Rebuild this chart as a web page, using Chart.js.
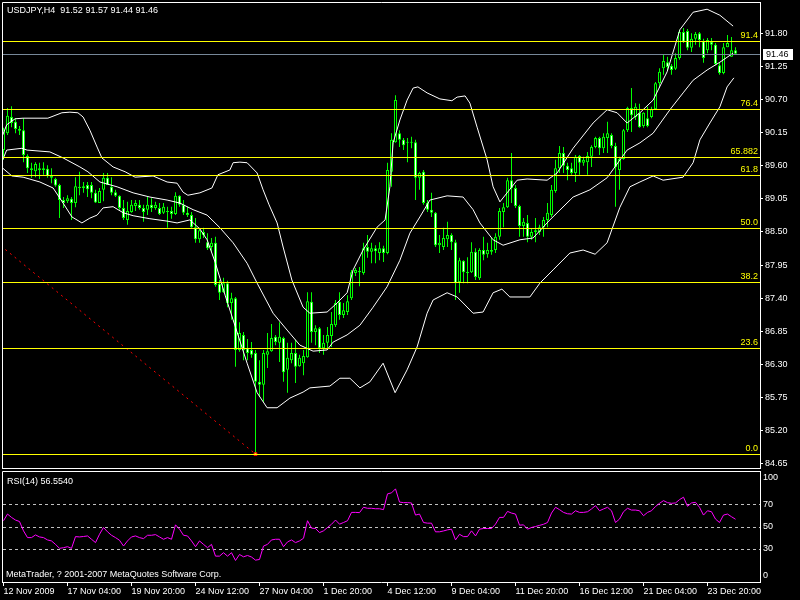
<!DOCTYPE html>
<html>
<head>
<meta charset="utf-8">
<title>USDJPY,H4</title>
<script src="https://cdn.jsdelivr.net/npm/chart.js@4.4.1/dist/chart.umd.min.js"></script>
<style>
html, body { margin: 0; padding: 0; background: #000; }
#wrap { position: relative; width: 800px; height: 600px; overflow: hidden; background: #000; }
#wrap canvas { position: absolute; left: 0; }
#priceCanvas { top: 0; }
#rsiCanvas { top: 470px; }
</style>
</head>
<body>
<div id="wrap">
<canvas id="priceCanvas" width="800" height="470"></canvas>
<canvas id="rsiCanvas" width="800" height="130"></canvas>
</div>
<script>
var symbol = 'USDJPY';
var period = 'H4';
var copyright = 'MetaTrader, ? 2001-2007 MetaQuotes Software Corp.';

// H4 candles, one entry per bar
var opens = [89.86,90.14,90.41,90.33,90.21,90.19,89.76,89.56,89.51,89.56,
  89.53,89.55,89.43,89.38,89.28,89.03,89.01,89.05,88.98,89.25,
  89.23,89.28,89.28,89.15,88.98,89.20,89.40,89.25,89.16,89.10,
  88.90,88.70,88.83,88.93,88.95,88.90,88.87,88.95,88.90,88.90,
  88.82,88.85,88.85,88.80,89.10,88.95,88.82,88.78,88.58,88.38,
  88.50,88.33,88.25,88.32,87.64,87.50,87.65,87.32,87.40,86.54,
  86.79,86.57,86.54,86.49,86.01,85.96,86.46,86.52,86.76,86.66,
  86.74,86.21,86.37,86.49,86.27,86.32,86.42,87.34,86.84,86.90,
  86.57,86.66,86.77,86.95,87.34,87.12,87.17,87.40,87.82,87.85,
  87.82,88.25,88.17,88.23,88.15,88.23,88.15,89.50,89.99,90.14,
  90.03,89.99,89.98,89.99,89.40,89.50,88.98,88.87,88.82,88.28,
  88.25,88.38,88.45,88.33,87.67,88.02,87.83,87.83,88.17,87.73,
  88.20,88.13,88.20,88.20,88.42,88.83,88.91,89.36,89.23,88.93,
  88.60,88.65,88.42,88.50,88.50,88.58,88.70,88.78,89.18,89.56,
  89.81,89.60,89.56,89.48,89.76,89.65,89.66,89.75,89.91,90.06,
  89.89,90.06,90.11,89.93,89.53,89.71,90.19,90.56,90.41,90.48,
  90.26,90.39,90.41,90.54,90.97,91.22,91.32,91.26,91.21,91.39,
  91.82,91.84,91.56,91.71,91.80,91.67,91.52,91.66,91.61,91.27,
  91.14,91.57,91.41,91.52];
var highs = [90.23,90.56,90.59,90.39,90.26,90.39,89.79,89.65,89.66,89.65,
  89.66,89.61,89.56,89.40,89.30,89.08,89.11,89.08,89.41,89.50,
  89.33,89.33,89.33,89.20,89.23,89.48,89.48,89.41,89.20,89.11,
  89.03,89.00,89.03,89.03,89.03,88.95,89.08,89.06,89.00,88.98,
  88.98,88.92,88.92,89.16,89.11,89.03,88.92,88.83,88.73,88.57,
  88.57,88.48,88.40,88.42,87.70,87.74,87.69,87.49,87.42,87.00,
  86.84,86.72,86.67,86.54,86.37,86.54,86.82,86.97,86.79,87.00,
  86.76,86.66,86.66,86.71,86.46,86.54,87.50,87.50,86.95,86.92,
  86.79,86.92,87.17,87.37,87.50,87.32,87.45,87.87,87.90,87.92,
  88.32,88.45,88.32,88.28,88.33,88.27,89.65,90.14,90.77,90.19,
  90.06,90.06,90.08,90.03,89.50,89.53,89.03,89.15,88.83,88.45,
  88.57,88.67,88.48,88.37,88.07,88.03,88.08,88.33,88.23,88.23,
  88.42,88.32,88.40,88.48,88.90,88.98,89.40,89.81,89.28,88.95,
  88.73,88.78,88.55,88.73,88.62,88.75,88.98,89.28,89.70,89.93,
  89.91,89.65,89.65,89.78,89.78,89.75,89.83,89.94,90.08,90.08,
  90.14,90.33,90.14,89.98,89.75,90.21,90.58,90.89,90.64,90.63,
  90.49,90.58,90.58,90.99,91.22,91.44,91.41,91.29,91.47,91.86,
  91.89,91.87,91.80,91.82,91.82,91.71,91.72,91.72,91.64,91.31,
  91.64,91.77,91.74,91.57];
var lows = [89.70,90.11,90.24,90.14,90.11,89.66,89.48,89.40,89.41,89.38,
  89.45,89.40,89.31,89.25,88.73,88.90,88.98,88.70,88.91,89.11,
  89.15,89.08,89.06,88.98,88.98,89.01,89.28,89.11,89.08,88.87,
  88.70,88.62,88.82,88.85,88.87,88.67,88.78,88.83,88.87,88.78,
  88.80,88.57,88.72,88.78,88.92,88.78,88.75,88.57,88.32,88.32,
  88.40,88.20,88.17,87.59,87.37,87.49,87.25,87.04,86.26,86.51,
  86.37,86.37,86.41,84.81,85.76,85.68,86.24,86.51,86.62,86.34,
  86.01,85.83,86.32,85.99,86.26,86.12,86.41,86.66,86.62,86.49,
  86.46,86.54,86.59,86.92,87.04,87.07,87.12,87.37,87.77,87.60,
  87.79,88.07,87.98,87.98,88.03,88.00,88.13,89.25,89.98,89.91,
  89.86,89.66,89.89,89.03,89.20,88.95,88.83,88.75,88.25,88.15,
  88.20,88.25,88.20,87.37,87.49,87.65,87.65,87.82,87.70,87.70,
  88.03,88.07,88.12,88.15,88.37,88.58,88.90,88.98,88.90,88.42,
  88.42,88.33,88.37,88.33,88.45,88.42,88.58,88.75,89.15,89.48,
  89.48,89.36,89.45,89.33,89.45,89.60,89.45,89.58,89.89,89.78,
  89.81,89.81,89.89,88.92,89.20,89.70,90.16,90.16,90.36,90.23,
  90.23,90.24,90.39,90.53,90.89,91.11,91.19,91.11,91.19,91.36,
  91.64,91.52,91.49,91.61,91.57,91.31,91.47,91.52,91.27,91.11,
  91.12,91.57,91.41,91.44];
var closes = [90.19,90.43,90.31,90.21,90.18,89.78,89.56,89.53,89.63,89.53,
  89.56,89.43,89.40,89.27,89.03,88.98,89.06,88.98,89.26,89.23,
  89.26,89.21,89.15,88.99,89.18,89.40,89.28,89.15,89.10,88.90,
  88.73,88.85,88.95,88.98,88.90,88.83,88.95,88.90,88.95,88.80,
  88.92,88.83,88.80,89.10,88.95,88.82,88.78,88.58,88.38,88.53,
  88.45,88.23,88.32,87.62,87.49,87.65,87.32,87.40,86.54,86.82,
  86.54,86.49,86.46,86.01,85.96,86.49,86.52,86.74,86.67,86.76,
  86.17,86.41,86.49,86.26,86.41,86.44,87.35,86.84,86.90,86.57,
  86.66,86.79,86.97,87.32,87.12,87.20,87.35,87.83,87.87,87.83,
  88.23,88.17,88.23,88.18,88.23,88.15,89.53,90.03,90.69,90.03,
  89.94,89.98,89.99,89.40,89.48,88.98,88.87,88.82,88.28,88.32,
  88.40,88.45,88.33,87.65,88.03,87.83,87.82,88.17,87.75,88.20,
  88.12,88.20,88.17,88.42,88.85,88.91,89.36,89.23,88.93,88.60,
  88.67,88.42,88.50,88.53,88.58,88.70,88.82,89.20,89.56,89.81,
  89.60,89.53,89.48,89.75,89.65,89.70,89.76,89.91,90.06,89.89,
  90.08,90.14,89.93,89.58,89.71,90.19,90.56,90.44,90.58,90.24,
  90.48,90.26,90.54,90.97,91.16,91.34,91.24,91.19,91.39,91.82,
  91.66,91.56,91.71,91.79,91.69,91.39,91.69,91.61,91.29,91.14,
  91.57,91.64,91.52,91.46];

// Bollinger bands (bar position, price)
var upperIdx = [-0.2,0.8,2.9,4.9,11.1,14.6,16.6,18.6,19.9,21.6,23.4,24.6,27.4,30.4,32.9,37.4,40.9,43.4,44.9,46.1,
  49.1,52.1,53.6,56.6,57.4,59.1,60.9,63.4,64.9,66.4,68.4,69.9,72.1,74.9,76.6,80.9,83.4,85.9,87.4,89.9,
  93.4,95.4,96.6,97.4,99.1,100.9,102.4,103.6,105.9,109.1,112.1,113.4,115.4,116.6,118.4,120.9,122.4,124.1,125.9,128.4,
  130.9,135.9,138.4,142.4,147.4,150.9,153.4,155.9,159.1,162.4,165.9,169.1,172.4,175.9,179.1,182.4];
var upperVal = [90.11,90.28,90.38,90.39,90.39,90.48,90.49,90.48,90.41,90.19,89.91,89.73,89.58,89.50,89.41,89.43,89.33,89.31,89.16,89.11,
  89.15,89.23,89.45,89.53,89.65,89.66,89.65,89.48,89.20,88.95,88.65,88.25,87.70,87.25,87.15,87.17,87.32,87.49,87.87,88.20,
  88.58,88.70,89.25,89.98,90.36,90.69,90.89,90.91,90.81,90.71,90.68,90.74,90.76,90.64,90.24,89.70,89.25,89.00,89.15,89.36,
  89.38,89.36,89.48,89.89,90.31,90.53,90.48,90.31,90.48,90.69,91.16,91.86,92.15,92.20,92.10,91.92];
var middleIdx = [-0.2,0.8,4.6,5.9,11.6,14.9,19.1,21.1,24.1,28.4,32.4,36.6,40.9,44.1,47.4,50.9,54.1,57.4,60.9,63.4,
  67.4,70.9,74.1,77.4,80.9,82.4,85.9,89.1,92.4,95.9,99.1,101.6,104.1,106.6,110.9,114.9,117.4,119.1,122.4,124.9,
  129.1,132.4,136.6,142.4,146.6,150.9,155.9,159.1,162.4,166.6,169.9,172.4,175.9,179.1,182.4];
var middleVal = [89.70,89.86,89.89,89.86,89.83,89.73,89.58,89.50,89.33,89.25,89.15,89.08,89.03,88.98,88.87,88.78,88.57,88.32,87.98,87.65,
  87.15,86.87,86.62,86.52,86.54,86.67,86.79,86.95,87.25,87.59,88.03,88.48,88.75,89.03,89.10,89.08,88.87,88.65,88.37,88.28,
  88.37,88.40,88.70,89.08,89.20,89.40,89.86,89.98,90.14,90.53,90.81,91.02,91.19,91.32,91.47];
var lowerIdx = [-0.2,2.1,4.9,9.1,12.4,14.9,17.1,19.6,21.6,23.4,24.9,27.4,29.9,32.4,36.6,40.9,43.4,46.6,49.1,50.9,
  52.9,55.4,57.4,60.9,63.4,65.9,68.4,71.6,74.9,76.6,81.6,84.1,86.6,89.1,91.6,94.9,97.9,100.9,103.4,105.9,
  107.4,110.9,113.4,114.9,117.4,119.9,122.4,124.6,126.6,131.6,134.1,137.4,141.6,144.9,147.9,150.9,154.1,156.6,159.1,162.4,
  164.9,169.9,172.4,174.1,176.6,179.1,180.9,182.6];
var lowerVal = [89.56,89.43,89.41,89.33,89.23,88.98,88.75,88.65,88.73,88.78,88.90,88.92,88.82,88.77,88.72,88.68,88.65,88.70,88.55,88.37,
  88.00,87.45,87.04,86.32,85.83,85.58,85.58,85.74,85.84,85.91,85.94,86.07,86.07,85.91,86.01,86.32,85.83,86.21,86.59,87.15,
  87.37,87.49,87.42,87.32,87.15,87.17,87.49,87.55,87.42,87.42,87.65,87.87,88.15,88.20,88.13,88.32,88.91,89.25,89.33,89.43,
  89.36,89.41,89.65,90.03,90.31,90.58,90.91,91.06];

// RSI(14), one value per bar
var rsiPeriod = 14;
var rsiValues = [55.2,61.2,58.2,55.8,54.5,46.1,40.0,40.0,42.4,40.6,
  40.0,37.9,37.0,33.9,30.3,30.9,31.8,30.3,40.9,40.6,
  41.0,41.5,38.5,35.5,43.0,49.1,45.2,42.1,40.0,37.6,
  32.4,37.0,40.6,41.5,40.0,39.1,42.1,42.1,42.7,40.6,
  38.5,40.0,38.5,51.5,47.6,42.1,41.5,37.0,31.8,37.0,
  33.9,30.9,33.9,23.3,23.3,26.4,23.3,26.4,19.4,24.8,
  22.7,23.9,22.5,19.7,20.3,32.4,33.9,37.9,38.5,38.5,
  31.8,36.1,37.9,35.5,37.0,39.4,55.2,48.5,48.2,44.5,
  46.1,49.1,52.0,55.8,52.1,53.6,55.2,62.7,62.7,62.5,
  67.3,66.4,66.4,66.0,66.0,65.2,79.4,80.3,83.9,72.0,
  71.5,71.5,71.2,60.3,61.2,53.6,53.0,53.0,45.2,45.2,
  46.0,47.0,47.6,37.9,43.0,40.9,40.9,46.1,41.5,47.6,
  48.2,48.2,48.2,52.1,58.2,58.2,63.6,62.1,61.2,51.2,
  51.5,47.6,49.1,50.0,51.0,52.0,53.6,62.1,67.3,65.2,
  62.7,61.5,61.2,64.2,62.7,62.7,63.3,65.8,68.8,64.2,
  65.8,67.3,64.2,53.6,56.7,63.3,66.4,64.8,64.8,64.2,
  59.7,62.7,64.2,68.0,70.9,73.3,71.5,70.9,71.2,74.2,
  76.4,68.2,71.2,71.8,67.3,60.3,64.2,63.3,56.7,53.6,
  60.3,61.2,58.8,56.554];
var rsiLevels = [70, 50, 30];
var rsiAxisLabels = [100, 70, 50, 30, 0];

// Fibonacci retracement
var fibLow = 84.81;
var fibHigh = 92.31;
var fibFromBar = -75;
var fibToBar = 63;
var fibLevels = [0, 23.6, 38.2, 50, 61.8, 65.882, 76.4, 91.4];
var fibLabels = ['0.0', '23.6', '38.2', '50.0', '61.8', '65.882', '76.4', '91.4'];

var priceTicks = [84.65, 85.20, 85.75, 86.30, 86.85, 87.40, 87.95, 88.50, 89.05, 89.60, 90.15, 90.70, 91.25, 91.80];
var timeBars = [0, 16, 32, 48, 64, 80, 96, 112, 128, 144, 160, 176];
var timeLabels = ['12 Nov 2009', '17 Nov 04:00', '19 Nov 20:00', '24 Nov 12:00', '27 Nov 04:00', '1 Dec 20:00',
  '4 Dec 12:00', '9 Dec 04:00', '11 Dec 20:00', '16 Dec 12:00', '21 Dec 04:00', '23 Dec 20:00'];

var FAMILY = '"Liberation Sans", Arial, sans-serif';
var FONT = '9px ' + FAMILY;
var LIME = '#00ff00';
var X_MIN = -0.375, X_MAX = 189.125;
var PRICE_MIN = 84.579, PRICE_MAX = 92.320;

Chart.defaults.font.family = FAMILY;
Chart.defaults.font.size = 9;
Chart.defaults.color = '#ffffff';

function pairs(xs, ys) {
  return xs.map(function (x, k) { return { x: x, y: ys[k] }; });
}

var last = closes.length - 1;
var bodies = [], wicks = [], bodyFill = [];
for (var i = 0; i < closes.length; i++) {
  bodies.push({ x: i, y: [Math.min(opens[i], closes[i]), Math.max(opens[i], closes[i])] });
  wicks.push({ x: i, y: [lows[i], highs[i]] });
  bodyFill.push(closes[i] > opens[i] ? '#000000' : '#ffffff');
}

var bandStyle = { type: 'line', borderColor: '#ffffff', borderWidth: 1, pointRadius: 0, tension: 0, fill: false, order: 1 };

var priceDecor = {
  id: 'priceDecor',
  afterDatasetsDraw: function (chart) {
    var ctx = chart.ctx, a = chart.chartArea, y = chart.scales.y;
    ctx.save();
    ctx.beginPath();
    ctx.rect(a.left, a.top, a.right - a.left, a.bottom - a.top);
    ctx.clip();
    ctx.lineWidth = 1;
    var py = Math.round(y.getPixelForValue(closes[last])) + 0.5;
    ctx.strokeStyle = '#778899';
    ctx.beginPath(); ctx.moveTo(a.left, py); ctx.lineTo(a.right, py); ctx.stroke();
    ctx.font = FONT;
    ctx.textAlign = 'right';
    ctx.textBaseline = 'bottom';
    fibLevels.forEach(function (lv, k) {
      var fy = Math.round(y.getPixelForValue(fibLow + (fibHigh - fibLow) * lv / 100)) + 0.5;
      ctx.strokeStyle = '#ffff00';
      ctx.beginPath(); ctx.moveTo(a.left, fy); ctx.lineTo(a.right, fy); ctx.stroke();
      ctx.fillStyle = '#ffff00';
      ctx.fillText(fibLabels[k], a.right - 2, fy - 1);
    });
    ctx.restore();
  },
  afterDraw: function (chart) {
    var ctx = chart.ctx, a = chart.chartArea, y = chart.scales.y;
    ctx.save();
    ctx.strokeStyle = '#ffffff';
    ctx.lineWidth = 1;
    ctx.beginPath();
    ctx.moveTo(a.left + 0.5, a.bottom + 1); ctx.lineTo(a.left + 0.5, a.top + 0.5); ctx.lineTo(a.right, a.top + 0.5);
    ctx.moveTo(a.left, a.bottom + 0.5); ctx.lineTo(a.right, a.bottom + 0.5);
    ctx.stroke();
    ctx.font = FONT;
    ctx.textAlign = 'left';
    ctx.textBaseline = 'middle';
    ctx.fillStyle = '#ffffff';
    var ohlc = [opens[last], highs[last], lows[last], closes[last]].map(function (v) { return v.toFixed(2); });
    ctx.fillText(symbol + ',' + period + '  ' + ohlc.join(' '), a.left + 5, a.top + 9);
    var py = Math.round(y.getPixelForValue(closes[last]));
    ctx.fillRect(a.right + 3, py - 5, 30, 11);
    ctx.fillStyle = '#000000';
    ctx.fillText(closes[last].toFixed(2), a.right + 6, py + 0.5);
    ctx.restore();
  }
};

new Chart(document.getElementById('priceCanvas'), {
  type: 'bar',
  data: {
    datasets: [
      Object.assign({ label: 'upper', data: pairs(upperIdx, upperVal) }, bandStyle),
      Object.assign({ label: 'middle', data: pairs(middleIdx, middleVal) }, bandStyle),
      Object.assign({ label: 'lower', data: pairs(lowerIdx, lowerVal) }, bandStyle),
      {
        type: 'line', label: 'fibo',
        data: [{ x: fibFromBar, y: fibHigh }, { x: fibToBar, y: fibLow }],
        borderColor: '#ff0000', borderWidth: 1, borderDash: [2, 4],
        pointRadius: [0, 2], pointStyle: 'rect', pointBackgroundColor: '#ffff00', pointBorderColor: '#ff0000',
        order: 2
      },
      {
        label: 'body', data: bodies, backgroundColor: bodyFill, borderColor: LIME, borderWidth: 1,
        borderSkipped: false, barThickness: 3, grouped: false, minBarLength: 1, inflateAmount: 0, order: 3
      },
      {
        label: 'wick', data: wicks, backgroundColor: LIME, borderWidth: 0,
        barThickness: 1, grouped: false, inflateAmount: 0, order: 4
      }
    ]
  },
  options: {
    responsive: false,
    animation: false,
    devicePixelRatio: 1,
    layout: { autoPadding: false, padding: { left: 2, top: 2, right: 0, bottom: 2 } },
    plugins: { legend: { display: false }, tooltip: { enabled: false } },
    events: [],
    scales: {
      x: { type: 'linear', min: X_MIN, max: X_MAX, display: false, offset: false, grid: { offset: false } },
      y: {
        position: 'right', min: PRICE_MIN, max: PRICE_MAX,
        afterBuildTicks: function (s) { s.ticks = priceTicks.map(function (v) { return { value: v }; }); },
        afterFit: function (s) { s.width = 40; s.paddingTop = 0; s.paddingBottom = 0; },
        ticks: { color: '#ffffff', padding: 2, autoSkip: false, callback: function (v) { return v.toFixed(2); } },
        grid: { drawOnChartArea: false, drawTicks: true, tickLength: 3, color: '#ffffff' },
        border: { color: '#ffffff' }
      }
    }
  },
  plugins: [priceDecor]
});

var rsiDecor = {
  id: 'rsiDecor',
  beforeDatasetsDraw: function (chart) {
    var ctx = chart.ctx, a = chart.chartArea, y = chart.scales.y;
    ctx.save();
    ctx.strokeStyle = '#c0c0c0';
    ctx.lineWidth = 1;
    ctx.setLineDash([3, 3]);
    rsiLevels.forEach(function (lv) {
      var py = Math.round(y.getPixelForValue(lv)) + 0.5;
      ctx.beginPath(); ctx.moveTo(a.left + 1, py); ctx.lineTo(a.right, py); ctx.stroke();
    });
    ctx.restore();
  },
  afterDraw: function (chart) {
    var ctx = chart.ctx, a = chart.chartArea, y = chart.scales.y;
    ctx.save();
    ctx.font = FONT;
    ctx.fillStyle = '#ffffff';
    ctx.textAlign = 'left';
    ctx.textBaseline = 'middle';
    rsiAxisLabels.forEach(function (lv) {
      var py = Math.min(Math.max(y.getPixelForValue(lv), a.top + 7), a.bottom - 6);
      ctx.fillText(String(lv), a.right + 3, py);
    });
    ctx.fillText('RSI(' + rsiPeriod + ') ' + rsiValues[last].toFixed(4), a.left + 5, a.top + 11);
    ctx.fillText(copyright, a.left + 4, a.bottom - 7);
    ctx.strokeStyle = '#ffffff';
    ctx.lineWidth = 1;
    ctx.beginPath();
    ctx.moveTo(a.left + 0.5, a.bottom); ctx.lineTo(a.left + 0.5, a.top + 0.5); ctx.lineTo(a.right, a.top + 0.5);
    ctx.stroke();
    ctx.restore();
  }
};

new Chart(document.getElementById('rsiCanvas'), {
  type: 'line',
  data: {
    datasets: [{
      label: 'RSI', data: rsiValues.map(function (v, k) { return { x: k, y: v }; }),
      borderColor: '#ff00ff', borderWidth: 1, pointRadius: 0, tension: 0, fill: false
    }]
  },
  options: {
    responsive: false,
    animation: false,
    devicePixelRatio: 1,
    layout: { autoPadding: false, padding: { left: 2, top: 1, right: 0, bottom: 0 } },
    plugins: { legend: { display: false }, tooltip: { enabled: false } },
    events: [],
    scales: {
      x: {
        type: 'linear', min: X_MIN, max: X_MAX, position: 'bottom',
        afterBuildTicks: function (s) { s.ticks = timeBars.map(function (b) { return { value: b }; }); },
        afterFit: function (s) { s.height = 18; s.paddingLeft = 0; s.paddingRight = 0; },
        ticks: {
          color: '#ffffff', align: 'start', padding: 0, autoSkip: false, maxRotation: 0, minRotation: 0,
          callback: function (v, k) { return timeLabels[k]; }
        },
        grid: { drawOnChartArea: false, drawTicks: true, tickLength: 4, color: '#ffffff' },
        border: { color: '#ffffff' }
      },
      y: {
        position: 'right', min: 0, max: 100,
        afterFit: function (s) { s.width = 40; s.paddingTop = 0; s.paddingBottom = 0; },
        ticks: { display: false },
        grid: { display: false },
        border: { color: '#ffffff' }
      }
    }
  },
  plugins: [rsiDecor]
});
</script>
</body>
</html>
